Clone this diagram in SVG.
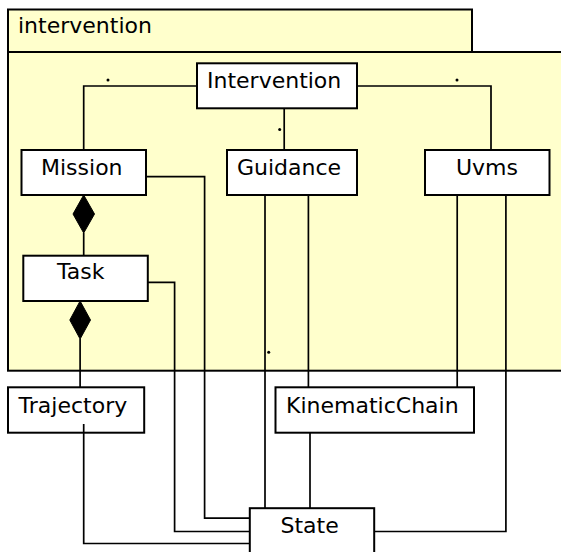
<svg xmlns="http://www.w3.org/2000/svg" width="561" height="552" viewBox="0 0 561 552">
  <style>
    .pkg { fill: #ffffcc; stroke: #000; stroke-width: 2; }
    .box { fill: #fff; stroke: #000; stroke-width: 2; }
    .lbl { font-family: "DejaVu Sans", "Liberation Sans", sans-serif; font-size: 22px; fill: #000; }
    .edge { fill: none; stroke: #000; stroke-width: 1.7; }
    .comp { fill: #000; stroke: #000; stroke-width: 1; }
    .dot { fill: #000; }
  </style>
  <rect width="561" height="552" fill="#fff"/>

  <!-- package "intervention" -->
  <g id="pkg-intervention">
    <rect class="pkg" x="8" y="9.5" width="464" height="42.5"/>
    <rect class="pkg" x="8" y="52" width="560" height="318.7"/>
    <text class="lbl" x="18" y="33.3">intervention</text>
  </g>

  <!-- classes -->
  <g id="node-intervention">
    <rect class="box" x="197" y="63.3" width="160" height="45"/>
    <text class="lbl" x="207" y="88">Intervention</text>
  </g>
  <g id="node-mission">
    <rect class="box" x="21.5" y="150" width="124.5" height="45"/>
    <text class="lbl" x="41" y="175">Mission</text>
  </g>
  <g id="node-guidance">
    <rect class="box" x="227" y="150" width="130" height="45"/>
    <text class="lbl" x="237" y="175">Guidance</text>
  </g>
  <g id="node-uvms">
    <rect class="box" x="425" y="150" width="124.5" height="45"/>
    <text class="lbl" x="456" y="175">Uvms</text>
  </g>
  <g id="node-task">
    <rect class="box" x="23.3" y="255.7" width="124.5" height="45.3"/>
    <text class="lbl" x="57" y="279.3">Task</text>
  </g>
  <g id="node-trajectory">
    <rect class="box" x="8" y="387.3" width="136.2" height="45.4"/>
    <text class="lbl" x="18.6" y="413.3">Trajectory</text>
  </g>
  <g id="node-kinematicchain">
    <rect class="box" x="275.5" y="387.3" width="198.5" height="45.4"/>
    <text class="lbl" x="286" y="413.3">KinematicChain</text>
  </g>
  <g id="node-state">
    <rect class="box" x="249.8" y="508.2" width="124.4" height="46"/>
    <text class="lbl" x="280.5" y="532.8">State</text>
  </g>

  <!-- connectors -->
  <g id="connectors">
    <!-- Intervention to Mission / Guidance / Uvms -->
    <polyline class="edge" points="197,86 83.7,86 83.7,150"/>
    <circle class="dot" cx="108" cy="80" r="1.5"/>
    <polyline class="edge" points="357,86 491,86 491,150"/>
    <circle class="dot" cx="457" cy="80" r="1.5"/>
    <line class="edge" x1="284.2" y1="108.3" x2="284.2" y2="150"/>
    <circle class="dot" cx="279.7" cy="129.5" r="1.5"/>

    <!-- Mission composes Task -->
    <line class="edge" x1="83.7" y1="233" x2="83.7" y2="255.7"/>
    <polygon class="comp" points="83.7,195 94.5,214 83.7,233 73,214"/>

    <!-- Task composes Trajectory -->
    <line class="edge" x1="80.1" y1="339" x2="80.1" y2="387.3"/>
    <polygon class="comp" points="80.1,301 90.5,320 80.1,339 69.8,320"/>

    <!-- links into State -->
    <polyline class="edge" points="146,176.7 204.6,176.7 204.6,518.2 249.8,518.2"/>
    <polyline class="edge" points="147.8,282.3 174.6,282.3 174.6,531.5 249.8,531.5"/>
    <polyline class="edge" points="83.7,424 83.7,543.5 249.8,543.5"/>
    <line class="edge" x1="265" y1="195" x2="265" y2="508.2"/>
    <circle class="dot" cx="268.7" cy="352.3" r="1.5"/>
    <line class="edge" x1="310" y1="432.7" x2="310" y2="508.2"/>
    <polyline class="edge" points="505.9,195 505.9,531.5 374.2,531.5"/>

    <!-- links into KinematicChain -->
    <line class="edge" x1="308.4" y1="195" x2="308.4" y2="387.3"/>
    <line class="edge" x1="457.2" y1="195" x2="457.2" y2="387.3"/>
  </g>
</svg>
